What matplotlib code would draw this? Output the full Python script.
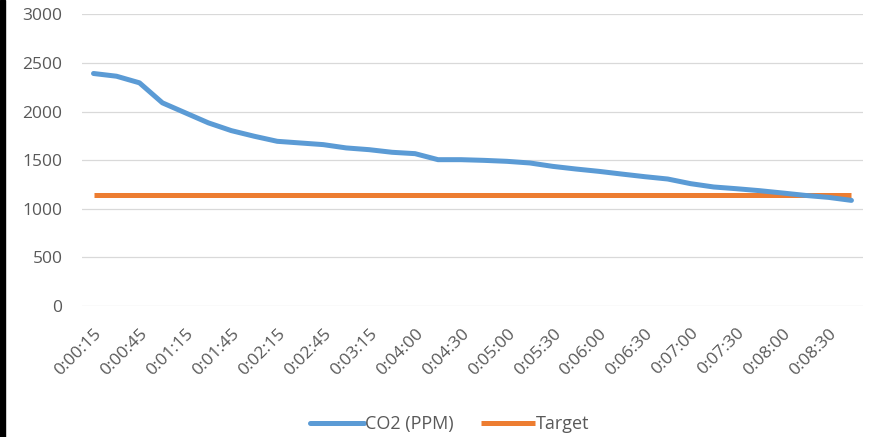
import matplotlib
matplotlib.use("Agg")
import matplotlib.pyplot as plt
from matplotlib.patches import Rectangle

# sample times (x categories), CO2 readings and target level
times = ["0:00:15", "0:00:30", "0:00:45", "0:01:00", "0:01:15", "0:01:30",
         "0:01:45", "0:02:00", "0:02:15", "0:02:30", "0:02:45", "0:03:00",
         "0:03:15", "0:03:30", "0:04:00", "0:04:15", "0:04:30", "0:04:45",
         "0:05:00", "0:05:15", "0:05:30", "0:05:45", "0:06:00", "0:06:15",
         "0:06:30", "0:06:45", "0:07:00", "0:07:15", "0:07:30", "0:07:45",
         "0:08:00", "0:08:15", "0:08:30", "0:08:45"]
co2 = [2392, 2364, 2296, 2090, 1987, 1884, 1804, 1746, 1694, 1677,
       1660, 1626, 1608, 1581, 1567, 1505, 1505, 1498, 1488, 1471,
       1436, 1409, 1385, 1357, 1330, 1306, 1258, 1224, 1206, 1186,
       1162, 1137, 1117, 1086]
target = [1140, 1140, 1140, 1140, 1140, 1140, 1140, 1140, 1140, 1140,
          1140, 1140, 1140, 1140, 1140, 1140, 1140, 1140, 1140, 1140,
          1140, 1140, 1140, 1140, 1140, 1140, 1140, 1140, 1140, 1140,
          1140, 1140, 1140, 1140]
yticks = [0, 500, 1000, 1500, 2000, 2500, 3000]

BLUE, ORANGE, GREY = "#5B9BD5", "#ED7D31", "#595959"
plt.rcParams["font.family"] = ["Open Sans", "DejaVu Sans"]

fig = plt.figure(figsize=(8.69, 4.37), dpi=100)
ax = fig.add_axes([0.0944, 0.300, 0.8986, 0.667])

x = list(range(len(times)))
ax.plot(x, co2, color=BLUE, lw=3.6, solid_capstyle="round", label="CO2 (PPM)", zorder=3)
ax.plot(x, target, color=ORANGE, lw=3.6, solid_capstyle="butt", label="Target", zorder=2)

ax.set_xlim(-0.5, len(times) - 0.5)
ax.set_ylim(0, 3000)
ax.set_yticks(yticks)
ax.set_xticks(x[::2])
ax.set_xticklabels(times[::2], rotation=45, ha="right", va="top",
                   rotation_mode="anchor")
ax.tick_params(axis="both", length=0, colors=GREY, labelsize=12.5)
ax.tick_params(axis="y", pad=14)
ax.tick_params(axis="x", pad=14)
ax.grid(axis="y", color="#D9D9D9", lw=0.9)
ax.set_axisbelow(True)
for s in ax.spines.values():
    s.set_visible(False)

leg = ax.legend(loc="center", bbox_to_anchor=(0.471, -0.405), ncol=2,
                frameon=False, fontsize=13, handlelength=3.0, handletextpad=0.05,
                columnspacing=1.5)
for t in leg.get_texts():
    t.set_color(GREY)

# black strip on the left edge of the screenshot
fig.patches.append(Rectangle((0, 0), 4.5 / 869, 1, transform=fig.transFigure,
                             color="black", zorder=10))

fig.savefig("out.png", dpi=100)
